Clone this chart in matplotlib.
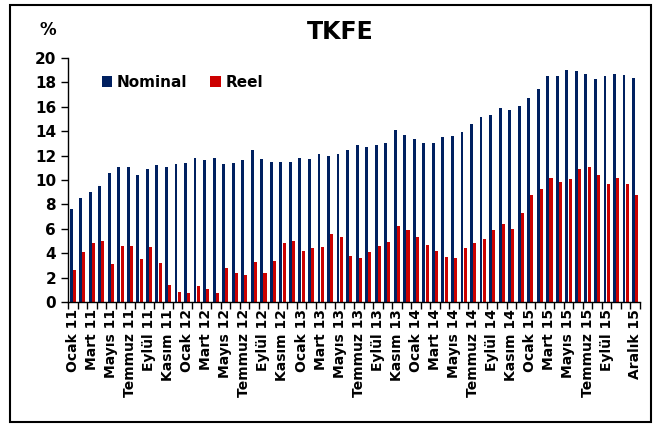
#!/usr/bin/env python3

import numpy as np
import matplotlib
matplotlib.use('Agg')
import matplotlib.pyplot as plt
from matplotlib.patches import Rectangle

months = ["Ocak", "Şubat", "Mart", "Nisan", "Mayıs", "Haziran",
          "Temmuz", "Ağustos", "Eylül", "Ekim", "Kasım", "Aralık"]
years = ["11", "12", "13", "14", "15"]

nominal = [7.6, 8.5, 9.0, 9.5, 10.6, 11.1, 11.1, 10.4, 10.9, 11.2,
           11.1, 11.3, 11.4, 11.8, 11.6, 11.8, 11.3, 11.4, 11.6, 12.5,
           11.7, 11.5, 11.5, 11.5, 11.8, 11.7, 12.1, 12.0, 12.1, 12.5,
           12.9, 12.7, 12.9, 13.0, 14.1, 13.7, 13.4, 13.0, 13.0, 13.5,
           13.6, 13.9, 14.6, 15.2, 15.3, 15.9, 15.7, 16.1, 16.7, 17.5,
           18.5, 18.5, 19.0, 18.9, 18.7, 18.3, 18.5, 18.7, 18.6, 18.4]

reel = [2.6, 4.1, 4.8, 5.0, 3.1, 4.6, 4.6, 3.5, 4.5, 3.2,
        1.4, 0.8, 0.7, 1.3, 1.1, 0.7, 2.8, 2.4, 2.2, 3.3,
        2.4, 3.4, 4.8, 5.0, 4.2, 4.4, 4.5, 5.6, 5.3, 3.8,
        3.6, 4.1, 4.6, 4.9, 6.2, 5.9, 5.3, 4.7, 4.2, 3.7,
        3.6, 4.4, 4.8, 5.2, 5.9, 6.4, 6.0, 7.3, 8.8, 9.3,
        10.2, 9.8, 10.1, 10.9, 11.1, 10.4, 9.7, 10.2, 9.7, 8.8]

labels = [m + " " + y for y in years for m in months]
label_pos = list(range(0, 57, 2)) + [59]

fig = plt.figure(figsize=(6.58, 4.30), dpi=100)
ax = fig.add_axes([0.1033, 0.2977, 0.8693, 0.5674])

x = np.arange(len(nominal))
ax.bar(x - 0.17, nominal, width=0.3, color="#002060", label="Nominal")
ax.bar(x + 0.17, reel, width=0.32, color="#CC0000", label="Reel")

ax.set_xlim(-0.5, len(nominal) - 0.5)
ax.set_ylim(0, 20)
ax.set_yticks(np.arange(0, 21, 2))
ax.set_yticklabels([str(v) for v in range(0, 21, 2)], fontweight="bold", fontsize=11)

ax.set_xticks(label_pos)
ax.set_xticklabels([labels[i] for i in label_pos], rotation=90,
                   fontweight="bold", fontsize=10)
ax.tick_params(axis="x", which="major", length=0, pad=5)
ax.set_xticks(np.arange(-0.5, len(nominal), 1), minor=True)
ax.tick_params(axis="x", which="minor", length=5, direction="out", width=1)
ax.tick_params(axis="y", length=5, direction="out", width=1)

for s in ["top", "right"]:
    ax.spines[s].set_visible(False)
ax.spines["left"].set_linewidth(1)
ax.spines["bottom"].set_linewidth(1)

ax.legend(loc="center left", bbox_to_anchor=(0.035, 0.9), ncol=2,
          frameon=False, prop={"weight": "bold", "size": 11},
          handlelength=0.7, handleheight=0.7, handletextpad=0.3,
          columnspacing=1.5)

fig.text(0.517, 0.925, "TKFE", ha="center", va="center",
         fontsize=17, fontweight="bold")
fig.text(0.072, 0.93, "%", ha="center", va="center",
         fontsize=12, fontweight="bold")

fig.patches.append(Rectangle((0.015, 0.018), 0.975, 0.97, transform=fig.transFigure,
                             fill=False, edgecolor="black", linewidth=1.5))

plt.savefig("out.png", dpi=100)
